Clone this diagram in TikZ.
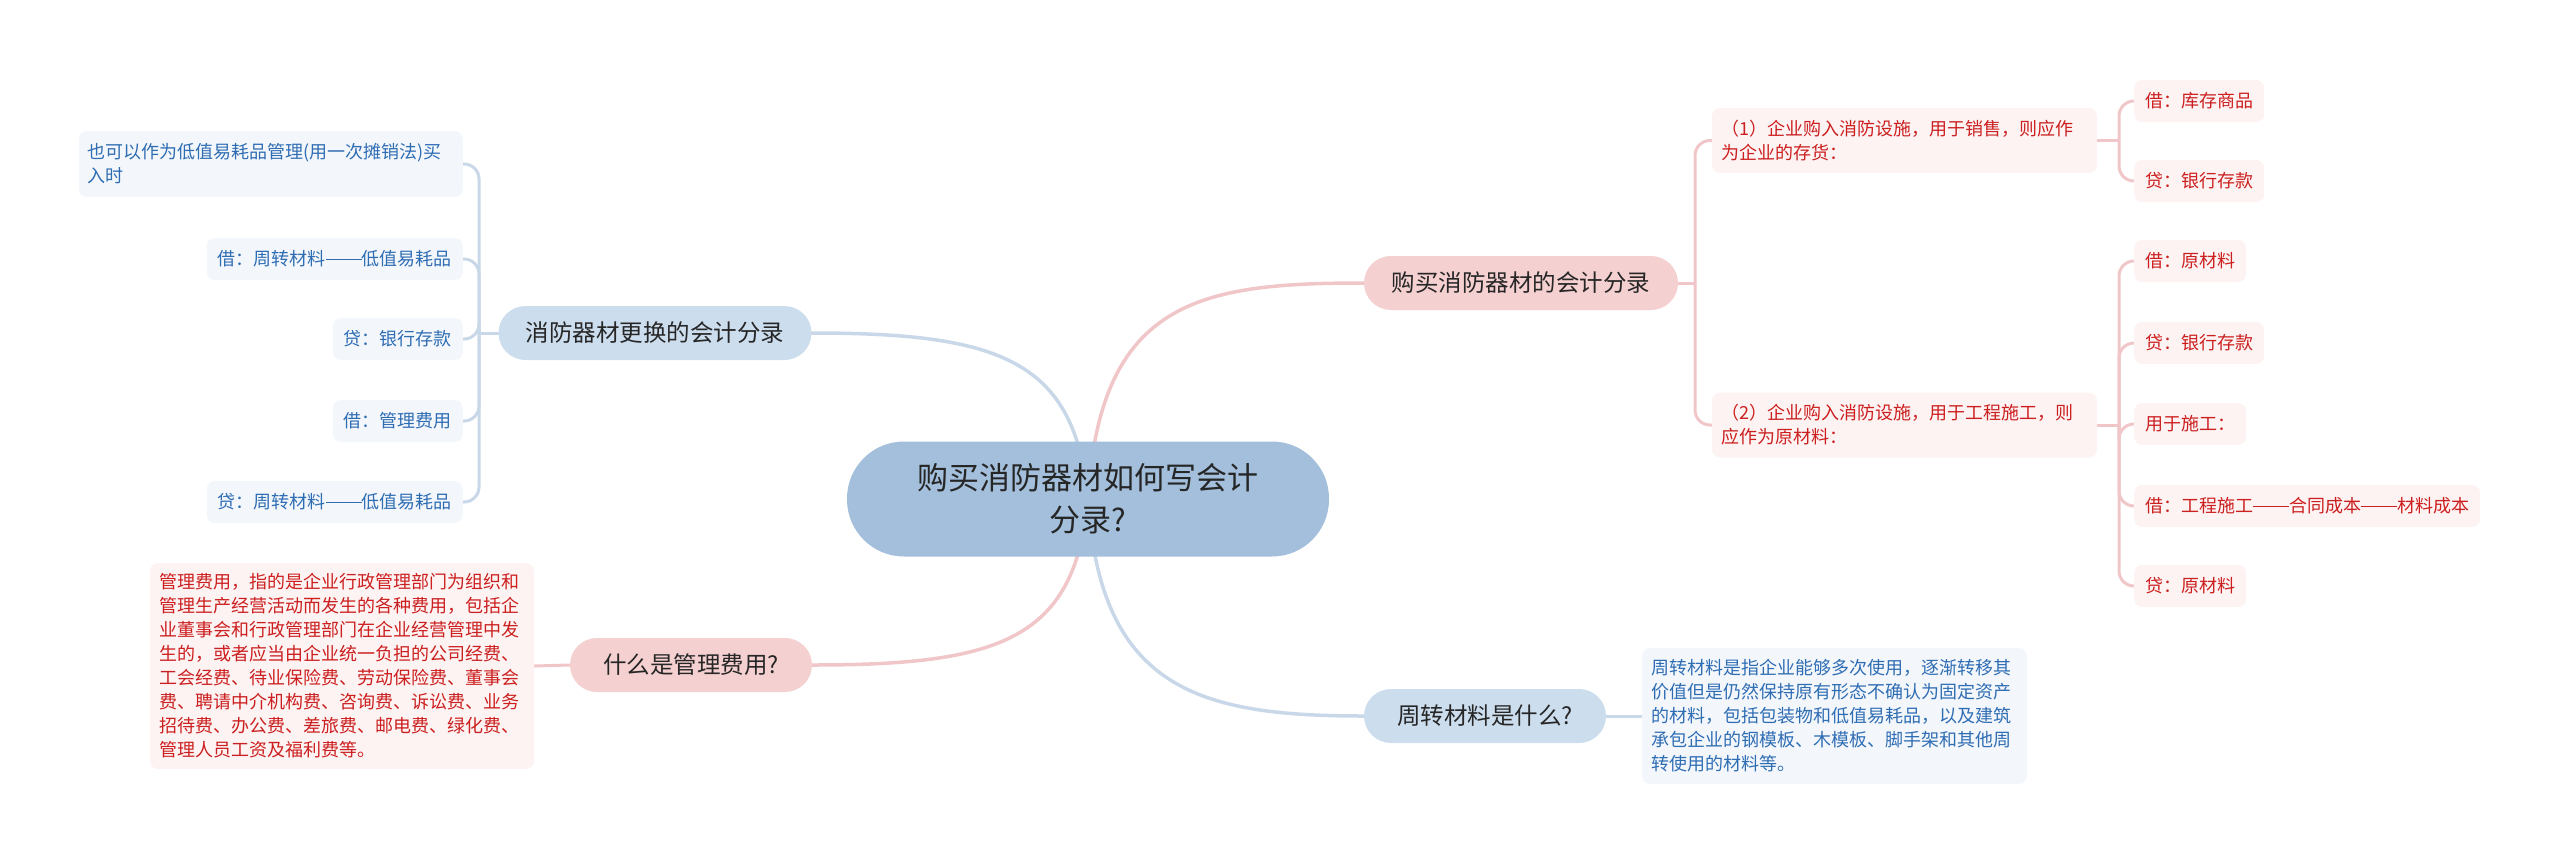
\documentclass[tikz,border=0pt]{standalone}
\usepackage{fontspec}
\setmainfont{Noto Sans CJK SC}
\usetikzlibrary{backgrounds}
\definecolor{rootfill}{HTML}{A3BFDB}
\definecolor{pinkmain}{HTML}{F5D0D1}
\definecolor{bluemain}{HTML}{CCDDEE}
\definecolor{pinkline}{HTML}{F0C6C8}
\definecolor{blueline}{HTML}{C8D8E8}
\definecolor{pinkleaf}{HTML}{FDF3F3}
\definecolor{blueleaf}{HTML}{F3F7FC}
\definecolor{redtext}{HTML}{CC1F1F}
\definecolor{bluetext}{HTML}{2F6DB3}
\definecolor{darktext}{HTML}{262626}
\newcommand\longdash{\rule[0.33em]{2em}{0.06em}}
\tikzset{
  rootnode/.style={fill=rootfill, text=darktext, rounded corners=57pt, minimum width=482pt, minimum height=115pt, align=center, inner sep=6pt, font=\fontsize{31pt}{42pt}\selectfont},
  mainnode/.style={text=darktext, rounded corners=27pt, minimum height=54pt, inner xsep=10pt, inner ysep=4pt, font=\fontsize{23.5pt}{28pt}\selectfont},
  mainp/.style={mainnode, fill=pinkmain},
  mainb/.style={mainnode, fill=bluemain},
  leafnode/.style={rounded corners=8pt, minimum height=42pt, inner xsep=11pt, inner ysep=6pt, align=left, font=\fontsize{18pt}{24pt}\selectfont},
  leafp/.style={leafnode, fill=pinkleaf, text=redtext},
  leafb/.style={leafnode, fill=blueleaf, text=bluetext},
  rootlink/.style={line width=3.5pt, line cap=round},
  brlink/.style={line width=3pt, rounded corners=15pt, line cap=round},
}
\begin{document}
\begin{tikzpicture}[x=1pt,y=-1pt]
\useasboundingbox (0,0) rectangle (2560,863);

% root and main nodes
\node[rootnode] (root) at (1088,499) {购买消防器材如何写会计\\分录?};
\node[mainp, minimum width=314pt] (m1) at (1521,283) {购买消防器材的会计分录};
\node[mainb, minimum width=242pt] (m2) at (1485,716) {周转材料是什么?};
\node[mainb, minimum width=313pt] (m3) at (655,333) {消防器材更换的会计分录};
\node[mainp, minimum width=242pt] (m4) at (691,665) {什么是管理费用?};

% right sub nodes
\node[leafp, text width=367pt, inner xsep=9pt, minimum height=65pt] (r1) at (1904.5,140.5) {（1）企业购入消防设施，用于销售，则应作\\为企业的存货：};
\node[leafp, text width=367pt, inner xsep=9pt, minimum height=65pt] (r2) at (1904.5,425) {（2）企业购入消防设施，用于工程施工，则\\应作为原材料：};

\node[leafp, anchor=west] (a1) at (2134,101) {借：库存商品};
\node[leafp, anchor=west] (a2) at (2134,181) {贷：银行存款};
\node[leafp, anchor=west] (c1) at (2134,261) {借：原材料};
\node[leafp, anchor=west] (c2) at (2134,343) {贷：银行存款};
\node[leafp, anchor=west] (c3) at (2134,424) {用于施工：};
\node[leafp, anchor=west] (c4) at (2134,506) {借：工程施工\longdash 合同成本\longdash 材料成本};
\node[leafp, anchor=west] (c5) at (2134,586) {贷：原材料};

% right lower
\node[leafb, text width=367pt, inner xsep=9pt, minimum height=136pt] (z1) at (1834.5,716) {周转材料是指企业能够多次使用，逐渐转移其\\价值但是仍然保持原有形态不确认为固定资产\\的材料，包括包装物和低值易耗品，以及建筑\\承包企业的钢模板、木模板、脚手架和其他周\\转使用的材料等。};

% left upper leaves
\node[leafb, anchor=east, text width=366pt, inner xsep=9pt, minimum height=66pt] (b1) at (463,164) {也可以作为低值易耗品管理(用一次摊销法)买\\入时};
\node[leafb, anchor=east] (b2) at (463,259) {借：周转材料\longdash 低值易耗品};
\node[leafb, anchor=east] (b3) at (463,339) {贷：银行存款};
\node[leafb, anchor=east] (b4) at (463,421) {借：管理费用};
\node[leafb, anchor=east] (b5) at (463,502) {贷：周转材料\longdash 低值易耗品};

% left lower
\node[leafp, text width=366pt, inner xsep=9pt, minimum height=206pt] (g1) at (342,666) {管理费用，指的是企业行政管理部门为组织和\\管理生产经营活动而发生的各种费用，包括企\\业董事会和行政管理部门在企业经营管理中发\\生的，或者应当由企业统一负担的公司经费、\\工会经费、待业保险费、劳动保险费、董事会\\费、聘请中介机构费、咨询费、诉讼费、业务\\招待费、办公费、差旅费、邮电费、绿化费、\\管理人员工资及福利费等。};

% junction coordinates
\coordinate (j1) at (1695,283);
\coordinate (jr1) at (2119,140.5);
\coordinate (jr2) at (2119,425);
\coordinate (j3) at (479,333);

\begin{scope}[on background layer]
  \draw[rootlink, pinkline] (root.center) .. controls (1100,300) and (1200,283) .. (m1.west);
  \draw[rootlink, blueline] (root.center) .. controls (1075,360) and (1000,333) .. (m3.east);
  \draw[rootlink, pinkline] (root.center) .. controls (1075,640) and (1000,665) .. (m4.east);
  \draw[rootlink, blueline] (root.center) .. controls (1100,690) and (1200,716) .. (m2.west);

  % m1 bracket
  \draw[brlink, pinkline] (m1.east) -- (j1);
  \draw[brlink, pinkline] (j1) |- (r1.west);
  \draw[brlink, pinkline] (j1) |- (r2.west);
  % r1 bracket
  \draw[brlink, pinkline] (r1.east) -- (jr1);
  \draw[brlink, pinkline] (jr1) |- (a1.west);
  \draw[brlink, pinkline] (jr1) |- (a2.west);
  % r2 bracket
  \draw[brlink, pinkline] (r2.east) -- (jr2);
  \draw[brlink, pinkline] (jr2) |- (c1.west);
  \draw[brlink, pinkline] (jr2) |- (c2.west);
  \draw[brlink, pinkline] (jr2) |- (c3.west);
  \draw[brlink, pinkline] (jr2) |- (c4.west);
  \draw[brlink, pinkline] (jr2) |- (c5.west);
  % m2
  \draw[brlink, blueline] (m2.east) -- (z1.west);
  % m3 bracket
  \draw[brlink, blueline] (m3.west) -- (j3);
  \draw[brlink, blueline] (j3) |- (b1.east);
  \draw[brlink, blueline] (j3) |- (b2.east);
  \draw[brlink, blueline] (j3) |- (b3.east);
  \draw[brlink, blueline] (j3) |- (b4.east);
  \draw[brlink, blueline] (j3) |- (b5.east);
  % m4
  \draw[brlink, pinkline] (m4.west) -- (g1.east);
\end{scope}
\end{tikzpicture}
\end{document}
